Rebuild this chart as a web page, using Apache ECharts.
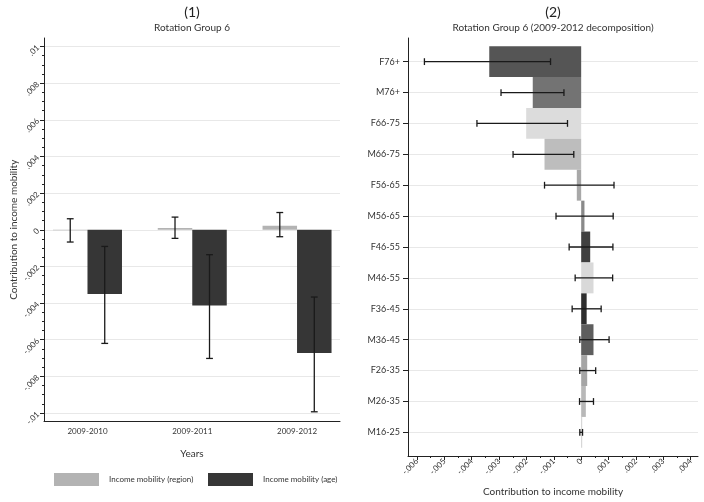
<!DOCTYPE html>
<html>
<head>
<meta charset="utf-8">
<script src="https://cdn.jsdelivr.net/npm/echarts@6/dist/echarts.min.js"></script>
<style>
html, body { margin: 0; padding: 0; background: #fff; }
#main { width: 704px; height: 502px; }
</style>
</head>
<body>
<div id="main"></div>
<script>
// panel (1) : contribution by period
let years = ['2009-2010', '2009-2011', '2009-2012'];
let year_pos = [1, 2, 3];
let region_val = [-0.00003, 0.00009, 0.00022];
let region_lo = [-0.00067, -0.00047, -0.00038];
let region_hi = [0.0006, 0.00069, 0.00094];
let age_val = [-0.00351, -0.00413, -0.00673];
let age_lo = [-0.0062, -0.00702, -0.00993];
let age_hi = [-0.00091, -0.00136, -0.00367];
let left_ticks = [-0.01, -0.008, -0.006, -0.004, -0.002, 0, 0.002, 0.004, 0.006, 0.008, 0.01];

// panel (2) : 2009-2012 decomposition by sex/age group
let groups = ['F76+', 'M76+', 'F66-75', 'M66-75', 'F56-65', 'M56-65', 'F46-55', 'M46-55', 'F36-45', 'M36-45', 'F26-35', 'M26-35', 'M16-25'];
let group_pos = [1, 2, 3, 4, 5, 6, 7, 8, 9, 10, 11, 12, 13];
let group_val = [-0.00336, -0.00177, -0.00201, -0.00134, -0.00016, 0.00012, 0.00033, 0.00045, 0.0002, 0.00045, 0.00022, 0.00017, 0.00001];
let group_lo = [-0.00573, -0.00293, -0.00381, -0.00249, -0.00134, -0.00092, -0.00044, -0.00022, -0.00033, -0.00005, -0.00005, -0.00006, -0.00005];
let group_hi = [-0.00112, -0.00063, -0.0005, -0.00027, 0.0012, 0.00117, 0.00116, 0.00115, 0.00073, 0.00102, 0.00053, 0.00045, 0.00005];
let right_ticks = [-0.006, -0.005, -0.004, -0.003, -0.002, -0.001, 0, 0.001, 0.002, 0.003, 0.004];

let group_colors = ['#555555', '#737373', '#dcdcdc', '#bdbdbd', '#a8a8a8', '#8a8a8a', '#404040',
                    '#d9d9d9', '#2e2e2e', '#5e5e5e', '#a5a5a5', '#b8b8b8', '#cfcfcf'];
let region_color = '#b3b3b3';
let age_color = '#363636';
let font = 'Lato, "Open Sans", sans-serif';
let bar_w = 34.5;

// minor ticks every .0005
let left_minor = [];
for (let i = -20; i <= 20; i++) { if (i % 4 != 0) left_minor.push(i * 0.0005); }
let right_minor = [];
for (let i = -12; i <= 8; i++) { if (i % 2 != 0) right_minor.push(i * 0.0005); }

// stata style number: .002, -.004, 0
function fmt(v) {
    if (Math.abs(v) < 1e-12) return '0';
    let s = String(parseFloat(Math.abs(v).toFixed(4))).replace(/^0/, '');
    return (v < 0 ? '-' : '') + s;
}

let err_style = { stroke: '#1a1a1a', lineWidth: 1.3 };

function vErr(sign) {
    return function (params, api) {
        let pos = api.value(0);
        let a = api.coord([pos, api.value(1)]);
        let b = api.coord([pos, api.value(2)]);
        let x = a[0] + sign * bar_w / 2;
        let c = 3.4;
        return {
            type: 'group',
            children: [
                { type: 'line', shape: { x1: x, y1: a[1], x2: x, y2: b[1] }, style: err_style },
                { type: 'line', shape: { x1: x - c, y1: a[1], x2: x + c, y2: a[1] }, style: err_style },
                { type: 'line', shape: { x1: x - c, y1: b[1], x2: x + c, y2: b[1] }, style: err_style }
            ]
        };
    };
}

function hErr(params, api) {
    let pos = api.value(0);
    let a = api.coord([api.value(1), pos]);
    let b = api.coord([api.value(2), pos]);
    let c = 3.4;
    return {
        type: 'group',
        children: [
            { type: 'line', shape: { x1: a[0], y1: a[1], x2: b[0], y2: b[1] }, style: err_style },
            { type: 'line', shape: { x1: a[0], y1: a[1] - c, x2: a[0], y2: a[1] + c }, style: err_style },
            { type: 'line', shape: { x1: b[0], y1: b[1] - c, x2: b[0], y2: b[1] + c }, style: err_style }
        ]
    };
}

function hBar(params, api) {
    let pos = api.value(0);
    let p0 = api.coord([0, pos]);
    let p1 = api.coord([api.value(1), pos]);
    let h = api.size([0, 1])[1];
    return {
        type: 'rect',
        shape: { x: Math.min(p0[0], p1[0]), y: p0[1] - h / 2, width: Math.max(Math.abs(p1[0] - p0[0]), 1), height: h },
        style: { fill: group_colors[params.dataIndex] }
    };
}

let axis_line = { onZero: false, lineStyle: { color: '#222', width: 1 } };
let label_style = { fontFamily: font, fontSize: 8, color: '#333' };
let name_style = { fontFamily: font, fontSize: 10, color: '#333' };

let myChart = echarts.init(document.getElementById('main'));
let option = {
    backgroundColor: '#fff',
    animation: false,
    textStyle: { fontFamily: font },
    graphic: [
        { type: 'text', x: 192, y: 5, style: { text: '(1)', font: '14px ' + font, fill: '#222', textAlign: 'center' } },
        { type: 'text', x: 192, y: 23, style: { text: 'Rotation Group 6', font: '10px ' + font, fill: '#333', textAlign: 'center' } },
        { type: 'text', x: 553, y: 5, style: { text: '(2)', font: '14px ' + font, fill: '#222', textAlign: 'center' } },
        { type: 'text', x: 553, y: 23, style: { text: 'Rotation Group 6 (2009-2012 decomposition)', font: '10px ' + font, fill: '#333', textAlign: 'center' } }
    ],
    legend: [
        {
            left: 49, top: 468, itemWidth: 45, itemHeight: 13, icon: 'rect',
            data: ['Income mobility (region)'],
            textStyle: { fontFamily: font, fontSize: 8, color: '#333', padding: [0, 0, 0, 5] }
        },
        {
            left: 203, top: 468, itemWidth: 45, itemHeight: 13, icon: 'rect',
            data: ['Income mobility (age)'],
            textStyle: { fontFamily: font, fontSize: 8, color: '#333', padding: [0, 0, 0, 5] }
        }
    ],
    grid: [
        { left: 44, top: 38, width: 296, height: 383.5 },
        { left: 408, top: 38, width: 290, height: 418 }
    ],
    xAxis: [
        {
            gridIndex: 0, type: 'value', min: 0.585, max: 3.41,
            axisLine: axis_line, axisTick: { show: false }, splitLine: { show: false },
            axisLabel: Object.assign({ customValues: year_pos, margin: 6, formatter: v => years[v - 1] }, label_style),
            name: 'Years', nameLocation: 'middle', nameGap: 27, nameTextStyle: name_style
        },
        {
            gridIndex: 1, type: 'value', min: -0.00633, max: 0.00427,
            axisLine: axis_line, splitLine: { show: false },
            axisTick: { customValues: right_ticks, length: 4, lineStyle: { color: '#222' } },
            axisLabel: Object.assign({ customValues: right_ticks, rotate: 45, margin: 4, formatter: fmt }, label_style),
            name: 'Contribution to income mobility', nameLocation: 'middle', nameGap: 31, nameTextStyle: name_style
        },
        {
            gridIndex: 1, type: 'value', min: -0.00633, max: 0.00427, position: 'bottom',
            axisLine: { show: false, onZero: false }, splitLine: { show: false }, axisLabel: { show: false },
            axisTick: { customValues: right_minor, length: 2, lineStyle: { color: '#222' } }
        }
    ],
    yAxis: [
        {
            gridIndex: 0, type: 'value', min: -0.01046, max: 0.01046,
            axisLine: axis_line,
            axisTick: { customValues: left_ticks, length: 4, lineStyle: { color: '#222' } },
            axisLabel: Object.assign({ customValues: left_ticks, rotate: 45, margin: 6, formatter: fmt }, label_style),
            splitLine: { show: true, lineStyle: { color: '#e8e8e8', width: 1 } },
            name: 'Contribution to income mobility', nameLocation: 'middle', nameGap: 25, nameTextStyle: name_style
        },
        {
            gridIndex: 0, type: 'value', min: -0.01046, max: 0.01046, position: 'left',
            axisLine: { show: false, onZero: false }, splitLine: { show: false }, axisLabel: { show: false },
            axisTick: { customValues: left_minor, length: 2, lineStyle: { color: '#222' } }
        },
        {
            gridIndex: 1, type: 'value', inverse: true, min: 0.235, max: 13.765,
            axisLine: axis_line,
            axisTick: { customValues: group_pos, length: 5, lineStyle: { color: '#222' } },
            axisLabel: Object.assign({}, label_style, { customValues: group_pos, margin: 8, fontSize: 9, formatter: v => groups[v - 1] }),
            splitLine: { show: true, lineStyle: { color: '#e8e8e8', width: 1 } }
        }
    ],
    series: [
        {
            name: 'Income mobility (region)', type: 'bar', xAxisIndex: 0, yAxisIndex: 0,
            barWidth: bar_w, barGap: '0%', itemStyle: { color: region_color },
            data: year_pos.map((p, i) => [p, region_val[i]])
        },
        {
            name: 'Income mobility (age)', type: 'bar', xAxisIndex: 0, yAxisIndex: 0,
            barWidth: bar_w, barGap: '0%', itemStyle: { color: age_color },
            data: year_pos.map((p, i) => [p, age_val[i]])
        },
        {
            type: 'custom', xAxisIndex: 0, yAxisIndex: 0, renderItem: vErr(-1),
            encode: { x: 0, y: [1, 2] }, z: 5,
            data: year_pos.map((p, i) => [p, region_lo[i], region_hi[i]])
        },
        {
            type: 'custom', xAxisIndex: 0, yAxisIndex: 0, renderItem: vErr(1),
            encode: { x: 0, y: [1, 2] }, z: 5,
            data: year_pos.map((p, i) => [p, age_lo[i], age_hi[i]])
        },
        {
            type: 'custom', xAxisIndex: 1, yAxisIndex: 2, renderItem: hBar,
            encode: { x: 1, y: 0 },
            data: group_pos.map((p, i) => [p, group_val[i]])
        },
        {
            type: 'custom', xAxisIndex: 1, yAxisIndex: 2, renderItem: hErr,
            encode: { x: [1, 2], y: 0 }, z: 5,
            data: group_pos.map((p, i) => [p, group_lo[i], group_hi[i]])
        }
    ]
};

myChart.setOption(option);
</script>
</body>
</html>
